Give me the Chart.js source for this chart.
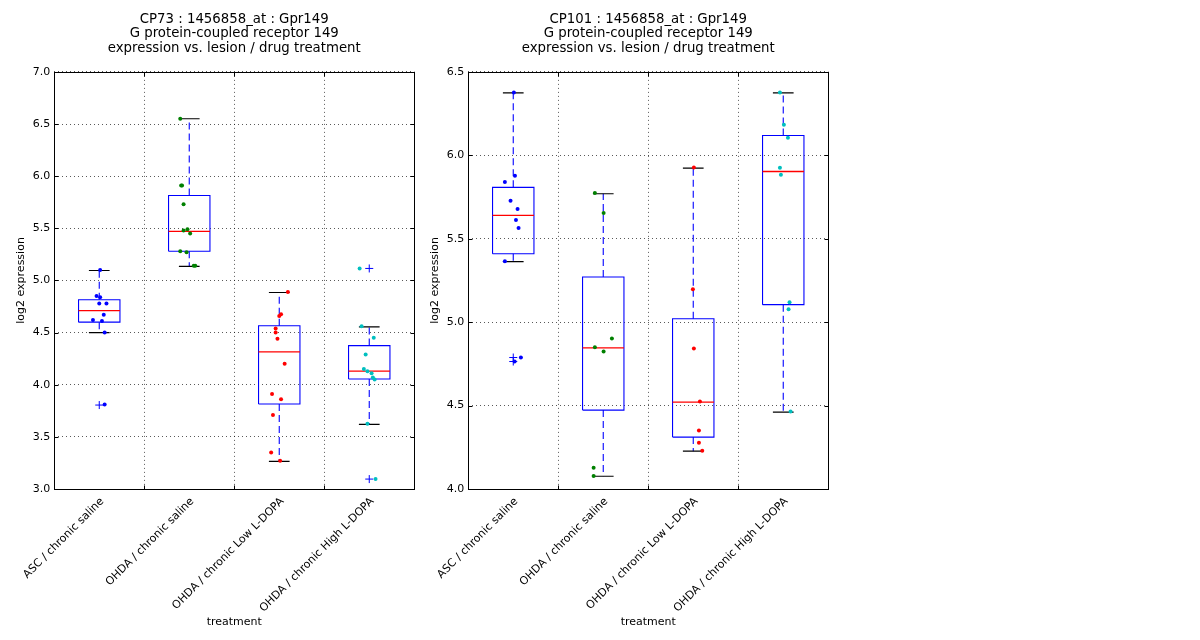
<!DOCTYPE html>
<html>
<head>
<meta charset="utf-8">
<script src="https://cdn.jsdelivr.net/npm/chart.js@4/dist/chart.umd.min.js"></script>
<style>
    body { margin: 0; background: #fff; }
    .panel { position: absolute; top: 0; width: 430px; height: 640px; }
</style>
</head>
<body>
<div class="panel" style="left:0px"><canvas id="cp73Chart" width="430" height="640"></canvas></div>
<div class="panel" style="left:414px"><canvas id="cp101Chart" width="430" height="640"></canvas></div>
<script>
// Treatment groups (x axis)
const categories = ['ASC / chronic saline', 'OHDA / chronic saline', 'OHDA / chronic Low L-DOPA', 'OHDA / chronic High L-DOPA'];
const groupColors = ['#0000ff', '#008000', '#ff0000', '#00bfbf'];

// CP73 box statistics
const cp73Q1 = [4.60, 5.28, 3.815, 4.055];
const cp73Median = [4.71, 5.47, 4.315, 4.13];
const cp73Q3 = [4.815, 5.815, 4.565, 4.375];
const cp73WhiskLo = [4.50, 5.135, 3.265, 3.62];
const cp73WhiskHi = [5.095, 6.55, 4.885, 4.555];
const cp73Outliers = [[3.805], [], [], [5.115, 3.095]];

// CP73 samples and their horizontal jitter (in category units)
const cp73Points = [
    [5.10, 4.85, 4.84, 4.78, 4.78, 4.67, 4.62, 4.61, 4.50, 3.81],
    [6.55, 5.91, 5.91, 5.73, 5.48, 5.49, 5.45, 5.28, 5.27, 5.14, 5.14],
    [4.89, 4.675, 4.66, 4.54, 4.50, 4.44, 4.20, 3.91, 3.86, 3.71, 3.35, 3.27],
    [5.115, 4.56, 4.45, 4.29, 4.15, 4.13, 4.11, 4.07, 4.05, 3.625, 3.095]
];
const cp73Jitter = [
    [0.01, -0.03, 0.01, 0.0, 0.08, 0.05, -0.07, 0.03, 0.06, 0.06],
    [-0.10, -0.09, -0.08, -0.063, -0.063, -0.02, 0.01, -0.10, -0.03, 0.05, 0.067],
    [0.096, 0.02, 0.0, -0.04, -0.04, -0.02, 0.06, -0.08, 0.02, -0.07, -0.09, 0.01],
    [-0.107, -0.085, 0.05, -0.04, -0.06, -0.02, 0.026, 0.04, 0.06, -0.02, 0.07]
];

// CP101 box statistics
const cp101Q1 = [5.41, 4.473, 4.311, 5.105];
const cp101Median = [5.64, 4.846, 4.521, 5.903];
const cp101Q3 = [5.808, 5.271, 5.02, 6.119];
const cp101WhiskLo = [5.363, 4.076, 4.227, 4.461];
const cp101WhiskHi = [6.374, 5.770, 5.923, 6.374];
const cp101Outliers = [[4.764, 4.788], [], [], []];

// CP101 samples and jitter
const cp101Points = [
    [6.376, 5.877, 5.84, 5.728, 5.678, 5.612, 5.564, 5.365, 4.764, 4.788],
    [5.774, 5.654, 4.902, 4.85, 4.824, 4.128, 4.078],
    [5.927, 5.197, 4.842, 4.525, 4.351, 4.277, 4.229],
    [6.376, 6.183, 6.105, 5.925, 5.883, 5.119, 5.077, 4.465]
];
const cp101Jitter = [
    [0.007, 0.019, -0.093, -0.03, 0.048, 0.03, 0.059, -0.093, 0.015, 0.085],
    [-0.093, 0.004, 0.096, -0.093, 0.004, -0.107, -0.107],
    [0.007, -0.004, 0.007, 0.074, 0.063, 0.063, 0.1],
    [-0.037, 0.007, 0.052, -0.037, -0.026, 0.07, 0.059, 0.081]
];

const FONT = 'DejaVu Sans';
const BOX_HALF = 0.23;
const CAP_HALF = 0.115;

// Frame around the plot area plus inward tick marks (matplotlib classic look)
const framePlugin = {
    id: 'frame',
    afterDraw(chart) {
        const { ctx, chartArea: a } = chart;
        const y = chart.scales.y;
        const xj = chart.scales.xj;
        const left = Math.floor(a.left) + 0.5, right = Math.floor(a.right) + 0.5;
        const top = Math.round(a.top) + 0.5, bottom = Math.round(a.bottom) + 0.5;
        ctx.save();
        ctx.strokeStyle = '#000';
        ctx.lineWidth = 1;
        ctx.beginPath();
        y.ticks.forEach(t => {
            const py = Math.round(y.getPixelForValue(t.value)) + 0.5;
            ctx.moveTo(left, py); ctx.lineTo(left + 4, py);
            ctx.moveTo(right, py); ctx.lineTo(right - 4, py);
        });
        for (let i = 0; i < categories.length - 1; i++) {
            const px = Math.floor(xj.getPixelForValue(i + 0.5)) + 0.5;
            ctx.moveTo(px, top); ctx.lineTo(px, top + 4);
            ctx.moveTo(px, bottom); ctx.lineTo(px, bottom - 4);
        }
        ctx.stroke();
        ctx.strokeRect(left, top, right - left, bottom - top);
        ctx.restore();
    }
};

// Build the line pieces of each box plot (box outline, median, whiskers, caps)
function segmentData(q1, med, q3, lo, hi) {
    const boxes = [], medians = [], whiskers = [], caps = [];
    for (let i = 0; i < categories.length; i++) {
        boxes.push({ x: i - BOX_HALF, y: q1[i] }, { x: i + BOX_HALF, y: q1[i] },
                   { x: i + BOX_HALF, y: q3[i] }, { x: i - BOX_HALF, y: q3[i] },
                   { x: i - BOX_HALF, y: q1[i] }, { x: i, y: null });
        medians.push({ x: i - BOX_HALF, y: med[i] }, { x: i + BOX_HALF, y: med[i] }, { x: i, y: null });
        whiskers.push({ x: i, y: q3[i] }, { x: i, y: hi[i] }, { x: i, y: null },
                      { x: i, y: q1[i] }, { x: i, y: lo[i] }, { x: i, y: null });
        caps.push({ x: i - CAP_HALF, y: hi[i] }, { x: i + CAP_HALF, y: hi[i] }, { x: i, y: null },
                  { x: i - CAP_HALF, y: lo[i] }, { x: i + CAP_HALF, y: lo[i] }, { x: i, y: null });
    }
    return { boxes, medians, whiskers, caps };
}

function lineSet(data, color, order, width, dash) {
    return {
        xAxisID: 'xj', data: data, showLine: true, spanGaps: false,
        borderColor: color, borderWidth: width, borderDash: dash || [],
        pointRadius: 0, order: order
    };
}

function buildChart(canvasId, titleLines, q1, med, q3, lo, hi, outliers, points, jitter, yMin, yMax) {
    const seg = segmentData(q1, med, q3, lo, hi);
    const outlierData = [];
    outliers.forEach((vals, i) => vals.forEach(v => outlierData.push({ x: i, y: v })));

    // one scatter dataset per group for the jittered samples
    const pointSets = points.map((vals, i) => ({
        xAxisID: 'xj',
        data: vals.map((v, k) => ({ x: i + jitter[i][k], y: v })),
        backgroundColor: groupColors[i],
        borderWidth: 0,
        pointRadius: 2,
        order: 0
    }));

    return new Chart(document.getElementById(canvasId), {
        type: 'scatter',
        data: {
            labels: categories,
            datasets: [
                ...pointSets,
                {
                    xAxisID: 'xj', data: outlierData,
                    pointStyle: 'cross', pointRadius: 4, borderColor: '#0000ff', borderWidth: 1, order: 1
                },
                lineSet(seg.medians, '#ff0000', 2, 1.3),
                lineSet(seg.caps, '#000000', 3, 1.1),
                lineSet(seg.whiskers, '#0000ff', 4, 1.1, [7, 4]),
                lineSet(seg.boxes, '#0000ff', 5, 1.1)
            ]
        },
        options: {
            responsive: false,
            animation: false,
            events: [],
            layout: { padding: { left: 0, right: 15.75, top: 0, bottom: 0 } },
            plugins: {
                legend: { display: false },
                tooltip: { enabled: false },
                title: {
                    display: true,
                    text: titleLines,
                    fullSize: false,
                    color: '#000',
                    font: { family: FONT, size: 13.3, weight: 'normal', lineHeight: 1.1 },
                    padding: { top: 12, bottom: 16 }
                }
            },
            scales: {
                x: {
                    type: 'category',
                    labels: categories,
                    offset: true,
                    grid: { offset: true, drawTicks: false, color: 'rgba(0,0,0,0.65)' },
                    border: { display: false, dash: [1, 3] },
                    ticks: {
                        autoSkip: false, minRotation: 45, maxRotation: 45, padding: 6, labelOffset: 3,
                        color: '#000', font: { family: FONT, size: 11 }
                    },
                    title: {
                        display: true, text: 'treatment', color: '#000',
                        font: { family: FONT, size: 11 }, padding: { top: 0, bottom: 11 }
                    },
                    afterFit(scale) {
                        scale.height = 151;
                        scale.paddingLeft = 0; scale.paddingRight = 0;
                    }
                },
                xj: {
                    type: 'linear', display: false, min: -0.5, max: categories.length - 0.5
                },
                y: {
                    type: 'linear',
                    min: yMin, max: yMax,
                    grid: { drawTicks: false, color: 'rgba(0,0,0,0.65)' },
                    border: { display: false, dash: [1, 3] },
                    ticks: {
                        stepSize: 0.5, padding: 4, color: '#000',
                        font: { family: FONT, size: 11 },
                        callback: v => v.toFixed(1)
                    },
                    title: {
                        display: true, text: 'log2 expression', color: '#000',
                        font: { family: FONT, size: 11 }, padding: { top: 15, bottom: 0 }
                    },
                    afterFit(scale) {
                        scale.width = 54.25;
                        scale.paddingTop = 0; scale.paddingBottom = 0;
                    }
                }
            }
        },
        plugins: [framePlugin]
    });
}

buildChart('cp73Chart',
    ['CP73 : 1456858_at : Gpr149', 'G protein-coupled receptor 149', 'expression vs. lesion / drug treatment'],
    cp73Q1, cp73Median, cp73Q3, cp73WhiskLo, cp73WhiskHi, cp73Outliers, cp73Points, cp73Jitter, 3.0, 7.0);

buildChart('cp101Chart',
    ['CP101 : 1456858_at : Gpr149', 'G protein-coupled receptor 149', 'expression vs. lesion / drug treatment'],
    cp101Q1, cp101Median, cp101Q3, cp101WhiskLo, cp101WhiskHi, cp101Outliers, cp101Points, cp101Jitter, 4.0, 6.5);
</script>
</body>
</html>
